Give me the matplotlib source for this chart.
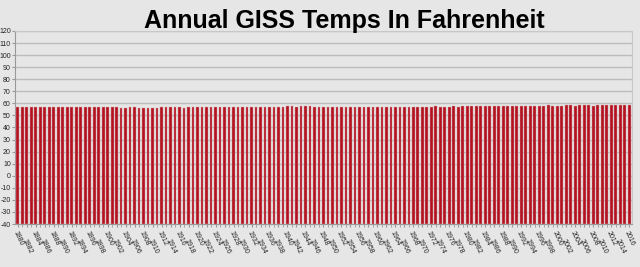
import matplotlib
matplotlib.use("Agg")
import matplotlib.pyplot as plt
import numpy as np

years = list(range(1880, 2017))
# GISS annual anomalies (deg C), converted below to Fahrenheit absolute
anom_c = [-0.20, -0.12, -0.10, -0.21, -0.28, -0.32, -0.31, -0.33, -0.20, -0.11,
          -0.36, -0.27, -0.31, -0.32, -0.32, -0.23, -0.11, -0.11, -0.27, -0.17,
          -0.08, -0.15, -0.28, -0.37, -0.47, -0.26, -0.22, -0.39, -0.43, -0.48,
          -0.43, -0.44, -0.36, -0.34, -0.15, -0.14, -0.36, -0.46, -0.29, -0.27,
          -0.27, -0.19, -0.28, -0.26, -0.27, -0.22, -0.10, -0.22, -0.20, -0.36,
          -0.16, -0.09, -0.16, -0.29, -0.12, -0.20, -0.15, -0.03, -0.00, -0.02,
          0.13, 0.19, 0.07, 0.09, 0.20, 0.09, -0.07, -0.03, -0.11, -0.11,
          -0.17, -0.07, 0.01, 0.08, -0.13, -0.14, -0.19, 0.05, 0.06, 0.03,
          -0.03, 0.06, 0.03, 0.05, -0.20, -0.11, -0.06, -0.02, -0.08, 0.05,
          0.03, -0.08, 0.01, 0.16, -0.07, -0.01, -0.10, 0.18, 0.07, 0.16,
          0.26, 0.32, 0.14, 0.31, 0.16, 0.12, 0.18, 0.32, 0.39, 0.27,
          0.45, 0.41, 0.22, 0.23, 0.32, 0.45, 0.33, 0.46, 0.61, 0.38,
          0.39, 0.54, 0.63, 0.62, 0.54, 0.68, 0.64, 0.66, 0.54, 0.64,
          0.72, 0.61, 0.64, 0.68, 0.75, 0.87, 0.99]
temps_f = [round(57.2 + 1.8 * a, 1) for a in anom_c]

y_ticks = list(range(-40, 121, 10))
title = "Annual GISS Temps In Fahrenheit"

bg = "#e6e6e6"
fig = plt.figure(figsize=(6.4, 2.67), dpi=100, facecolor=bg)
ax = fig.add_axes([0.0234, 0.161, 0.964, 0.723], facecolor=bg)

x = np.arange(len(years))
ax.bar(x, [t + 40 for t in temps_f], bottom=-40, width=0.62,
       color="#b3121f", edgecolor="#d9a0a6", linewidth=0.3, zorder=3)

ax.set_ylim(-40, 120)
ax.set_yticks(y_ticks)
ax.set_yticklabels([str(v) for v in y_ticks], fontsize=5, color="#222222",
                   family="Liberation Sans")
ax.yaxis.grid(True, color="#bdbdbd", linewidth=1.0, zorder=0)
ax.set_xlim(-0.6, len(years) - 0.4)

label_idx = [i for i, y in enumerate(years) if y % 2 == 0]
ax.set_xticks(label_idx)
ax.set_xticklabels([str(years[i]) for i in label_idx], rotation=-65,
                   fontsize=5, ha="left", va="top", rotation_mode="anchor",
                   family="Liberation Sans", color="#222222")
for k, lab in enumerate(ax.get_xticklabels()):
    if k % 2 == 1:
        lab.set_y(-0.045)
ax.set_xticks(x, minor=True)
ax.tick_params(axis="x", which="both", length=2, color="#999999", pad=2)
ax.tick_params(axis="y", length=2, color="#999999", pad=1)

for s in ["top", "right"]:
    ax.spines[s].set_color("#c8c8c8")
for s in ["left", "bottom"]:
    ax.spines[s].set_color("#999999")

fig.text(0.538, 0.895, title, ha="center", va="baseline", fontsize=18,
         fontweight="bold", family="Liberation Sans", color="#000000")

fig.savefig("out.png", dpi=100, facecolor=bg)
